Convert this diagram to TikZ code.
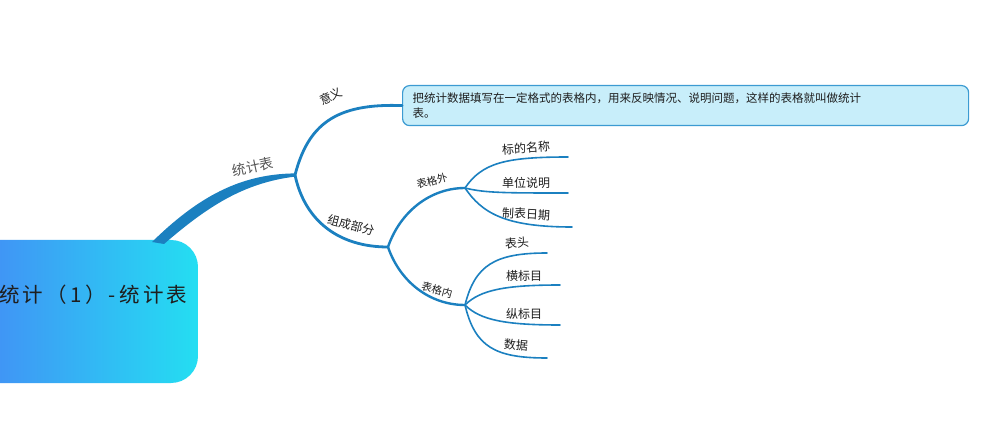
\documentclass[tikz,border=0pt]{standalone}
\usepackage{fontspec}
\usetikzlibrary{calc}
\setmainfont{Noto Sans CJK SC}
\definecolor{brc}{RGB}{27,128,192}
\definecolor{cA}{RGB}{72,128,246}
\definecolor{cB}{RGB}{36,222,242}
\definecolor{deffill}{RGB}{200,238,250}
\definecolor{defdraw}{RGB}{60,155,210}
\definecolor{txt}{RGB}{30,30,30}
\definecolor{grey}{RGB}{85,85,85}
\begin{document}
\begin{tikzpicture}[x=1pt,y=-1pt,
  br/.style={draw=brc, line cap=round},
  lbl/.style={font=\fontsize{12}{14}\selectfont, inner sep=0pt, text=txt},
  defbox/.style={draw=defdraw, fill=deffill, line width=1.2pt, rounded corners=7pt,
    anchor=north west, minimum width=566pt, minimum height=40pt, inner xsep=10pt,
    text width=546pt, align=left, font=\fontsize{11.5}{15}\selectfont, text=txt}]
\useasboundingbox (0,0) rectangle (1000,435);
\fill[white] (0,0) rectangle (1000,435);
% central topic
\shade[rounded corners=27pt, left color=cA, right color=cB]
  (-60,240) rectangle (198,383);
\node[anchor=west, font=\fontsize{20.5}{24}\selectfont\addfontfeature{LetterSpace=16}, text=txt, inner sep=0pt] (root) at (-1,295) {统计（1）-统计表};
% coordinates
\coordinate (r) at (158,241);
\coordinate (j1) at (295,175);
\coordinate (j2) at (388,247);
\coordinate (j3) at (465,188);
\coordinate (j4) at (465,305);
\coordinate (e1) at (568,157);
\coordinate (e2) at (568,193);
\coordinate (e3) at (572,227);
\coordinate (f1) at (547,253);
\coordinate (f2) at (560,285);
\coordinate (f3) at (560,325);
\coordinate (f4) at (547,358);
% definition box
\node[defbox] (def) at (402,85) {把统计数据填写在一定格式的表格内，用来反映情况、说明问题，这样的表格就叫做统计\\表。};
% branches
\fill[brc] ($(r)+(-6,1)$) .. controls (198,197) and (240,174) .. ($(j1)+(0,-1.6)$)
  -- ($(j1)+(0,1.6)$) .. controls (243,183) and (207,207) .. ($(r)+(6,3)$) -- cycle;
\draw[br, line width=2.8pt] (j1) .. controls (308,125) and (335,103) .. (def.west);
\draw[br, line width=2.8pt] (j1) .. controls (305,222) and (340,247) .. (j2);
\draw[br, line width=2.4pt] (j2) .. controls (400,212) and (430,188) .. (j3);
\draw[br, line width=2.4pt] (j2) .. controls (400,282) and (430,305) .. (j4);
\draw[br, line width=1.6pt] (j3) .. controls (482,163) and (505,157) .. (e1);
\draw[br, line width=1.6pt] (j3) .. controls (485,193) and (505,193) .. (e2);
\draw[br, line width=1.6pt] (j3) .. controls (482,213) and (505,227) .. (e3);
\draw[br, line width=1.6pt] (j4) .. controls (475,265) and (495,253) .. (f1);
\draw[br, line width=1.6pt] (j4) .. controls (480,290) and (505,285) .. (f2);
\draw[br, line width=1.6pt] (j4) .. controls (480,320) and (505,325) .. (f3);
\draw[br, line width=1.6pt] (j4) .. controls (475,347) and (495,358) .. (f4);
% labels
\node[lbl, font=\fontsize{14}{16}\selectfont, text=grey, rotate=12] (l0) at (253,167) {统计表};
\node[lbl, rotate=25] (l1) at (331,96) {意义};
\node[lbl, rotate=-15] (l2) at (351,225) {组成部分};
\node[lbl, font=\fontsize{10.5}{12}\selectfont, rotate=15] (l3) at (432,181) {表格外};
\node[lbl, font=\fontsize{10.5}{12}\selectfont, rotate=-15] (l4) at (437,290) {表格内};
\node[lbl, rotate=4] (a1) at (526,148) {标的名称};
\node[lbl] (a2) at (526,183) {单位说明};
\node[lbl, rotate=-3] (a3) at (526,214) {制表日期};
\node[lbl, rotate=5] (b1) at (517,243) {表头};
\node[lbl] (b2) at (524,276) {横标目};
\node[lbl] (b3) at (524,314) {纵标目};
\node[lbl, rotate=-5] (b4) at (516,345) {数据};
\end{tikzpicture}
\end{document}
